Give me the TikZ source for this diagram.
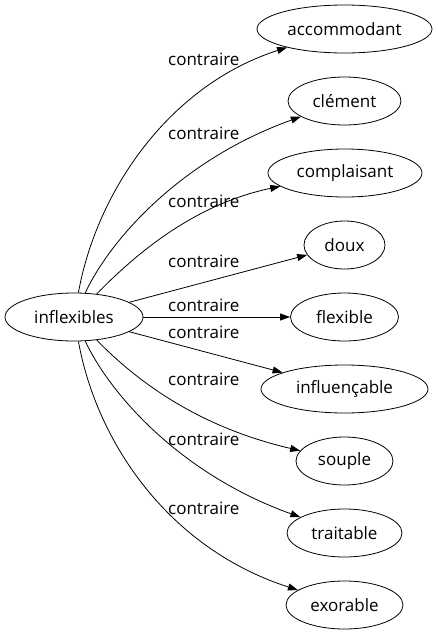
\documentclass[tikz,border=0pt]{standalone}
\usepackage{fontspec}
\setmainfont{Open Sans}
\usetikzlibrary{shapes.geometric,arrows.meta}
\tikzset{
  word/.style={ellipse,draw,line width=0.8pt,inner sep=0pt,minimum height=48pt,font=\fontsize{17}{20}\selectfont},
  rel/.style={anchor=base west,inner sep=0pt,font=\fontsize{17}{20}\selectfont},
  link/.style={line width=0.8pt,-{Triangle[length=10pt,width=7pt]}}
}
\begin{document}
\begin{tikzpicture}[x=1pt,y=-1pt]
\useasboundingbox (0,0) rectangle (437,635);
\node[word,minimum width=138pt] (infl) at (74,317) {inflexibles};
\node[word,minimum width=175pt] (acc) at (344.5,29) {accommodant};
\node[word,minimum width=113pt] (cle) at (344.5,101) {clément};
\node[word,minimum width=154pt] (comp) at (345,173) {complaisant};
\node[word,minimum width=81pt] (doux) at (344.5,245) {doux};
\node[word,minimum width=108pt] (flex) at (344.5,317) {flexible};
\node[word,minimum width=167pt] (influ) at (344.5,389) {influençable};
\node[word,minimum width=97pt] (soup) at (344.5,461) {souple};
\node[word,minimum width=115pt] (trai) at (344.5,533) {traitable};
\node[word,minimum width=117pt] (exo) at (344.5,605) {exorable};

\node[rel] (l1) at (168,65) {contraire};
\node[rel] (l2) at (168,139) {contraire};
\node[rel] (l3) at (168,207) {contraire};
\node[rel] (l4) at (168,267) {contraire};
\node[rel] (l5) at (168,311) {contraire};
\node[rel] (l6) at (168,338) {contraire};
\node[rel] (l7) at (168,385) {contraire};
\node[rel] (l8) at (168,445) {contraire};
\node[rel] (l9) at (168,514) {contraire};

\draw[link] (infl) .. controls (97,190) and (170,85) .. (acc);
\draw[link] (infl) .. controls (110,240) and (180,160) .. (cle);
\draw[link] (infl) .. controls (130,260) and (190,205) .. (comp);
\draw[link] (infl) -- (doux);
\draw[link] (infl) -- (flex);
\draw[link] (infl) -- (influ);
\draw[link] (infl) .. controls (130,374) and (190,425) .. (soup);
\draw[link] (infl) .. controls (110,394) and (180,474) .. (trai);
\draw[link] (infl) .. controls (97,444) and (170,549) .. (exo);
\end{tikzpicture}
\end{document}
